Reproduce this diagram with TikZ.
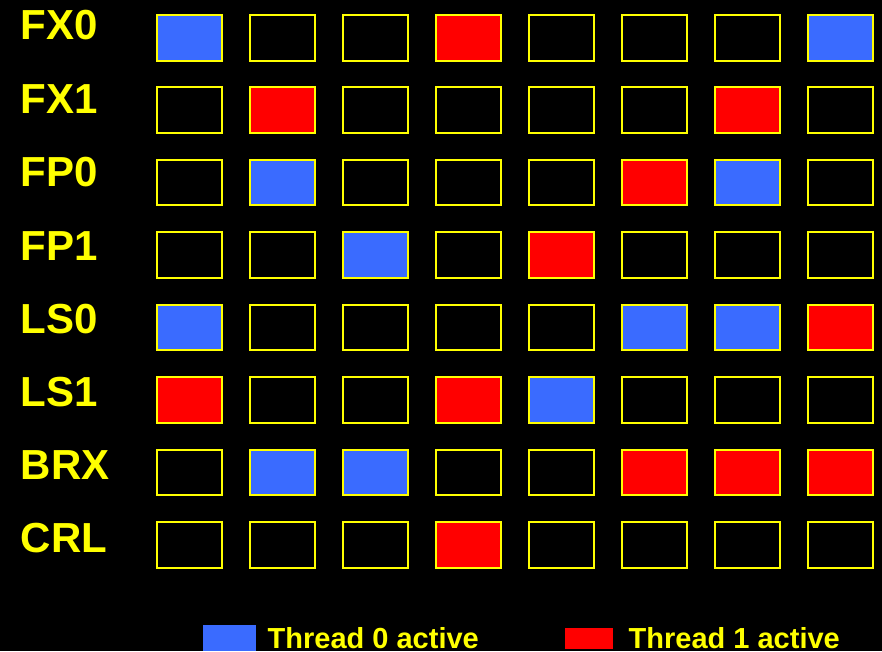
\documentclass[tikz,border=0pt]{standalone}
\usepackage{fontspec}
\setmainfont{Liberation Sans}
\usepackage{xcolor}
\definecolor{tblue}{HTML}{3A6BFF}
\definecolor{tred}{HTML}{FF0000}
\definecolor{tyellow}{HTML}{FFFF00}

\begin{document}
\begin{tikzpicture}[x=1pt, y=-1pt,
        cell/.style={draw=tyellow, line width=2pt, minimum width=65pt, minimum height=45.5pt, inner sep=0pt},
        idle/.style={fill=black},
        tzero/.style={fill=tblue},
        tone/.style={fill=tred},
        unit/.style={text=tyellow, font=\fontsize{42}{42}\selectfont\bfseries, anchor=base west, inner sep=0pt},
        key/.style={text=tyellow, font=\fontsize{29}{29}\selectfont\bfseries, anchor=base west, inner sep=0pt}]
      \useasboundingbox (0,0) rectangle (882,651);
      \fill[black] (0,0) rectangle (882,651);
      % unit names
      \node[unit] (fx0) at (20.5, 39.5) {FX0};
      \node[unit] (fx1) at (20.5, 113) {FX1};
      \node[unit] (fp0) at (20.5, 186) {FP0};
      \node[unit] (fp1) at (20.5, 260) {FP1};
      \node[unit] (ls0) at (20.5, 333) {LS0};
      \node[unit] (ls1) at (20.5, 406.5) {LS1};
      \node[unit] (brx) at (20.5, 479) {BRX};
      \node[unit] (crl) at (20.5, 552) {CRL};
      % issue slots, one row per unit
      \foreach \c [count=\k] in {tzero,idle,idle,tone,idle,idle,idle,tzero}
        \node[cell,\c] (fx0-\k) at ({189.5+(\k-1)*93}, 37.8) {};
      \foreach \c [count=\k] in {idle,tone,idle,idle,idle,idle,tone,idle}
        \node[cell,\c] (fx1-\k) at ({189.5+(\k-1)*93}, 110.2) {};
      \foreach \c [count=\k] in {idle,tzero,idle,idle,idle,tone,tzero,idle}
        \node[cell,\c] (fp0-\k) at ({189.5+(\k-1)*93}, 182.7) {};
      \foreach \c [count=\k] in {idle,idle,tzero,idle,tone,idle,idle,idle}
        \node[cell,\c] (fp1-\k) at ({189.5+(\k-1)*93}, 255.1) {};
      \foreach \c [count=\k] in {tzero,idle,idle,idle,idle,tzero,tzero,tone}
        \node[cell,\c] (ls0-\k) at ({189.5+(\k-1)*93}, 327.5) {};
      \foreach \c [count=\k] in {tone,idle,idle,tone,tzero,idle,idle,idle}
        \node[cell,\c] (ls1-\k) at ({189.5+(\k-1)*93}, 400.0) {};
      \foreach \c [count=\k] in {idle,tzero,tzero,idle,idle,tone,tone,tone}
        \node[cell,\c] (brx-\k) at ({189.5+(\k-1)*93}, 472.4) {};
      \foreach \c [count=\k] in {idle,idle,idle,tone,idle,idle,idle,idle}
        \node[cell,\c] (crl-\k) at ({189.5+(\k-1)*93}, 544.8) {};
      % legend
      \node[fill=tblue, minimum width=53pt, minimum height=26pt, inner sep=0pt] (sw0) at (229.5, 638) {};
      \node[key] (k0) at (267.5, 648) {Thread 0 active};
      \node[fill=tred, minimum width=48pt, minimum height=21pt, inner sep=0pt] (sw1) at (589, 638.5) {};
      \node[key] (k1) at (628.5, 648) {Thread 1 active};
    \end{tikzpicture}
\end{document}
